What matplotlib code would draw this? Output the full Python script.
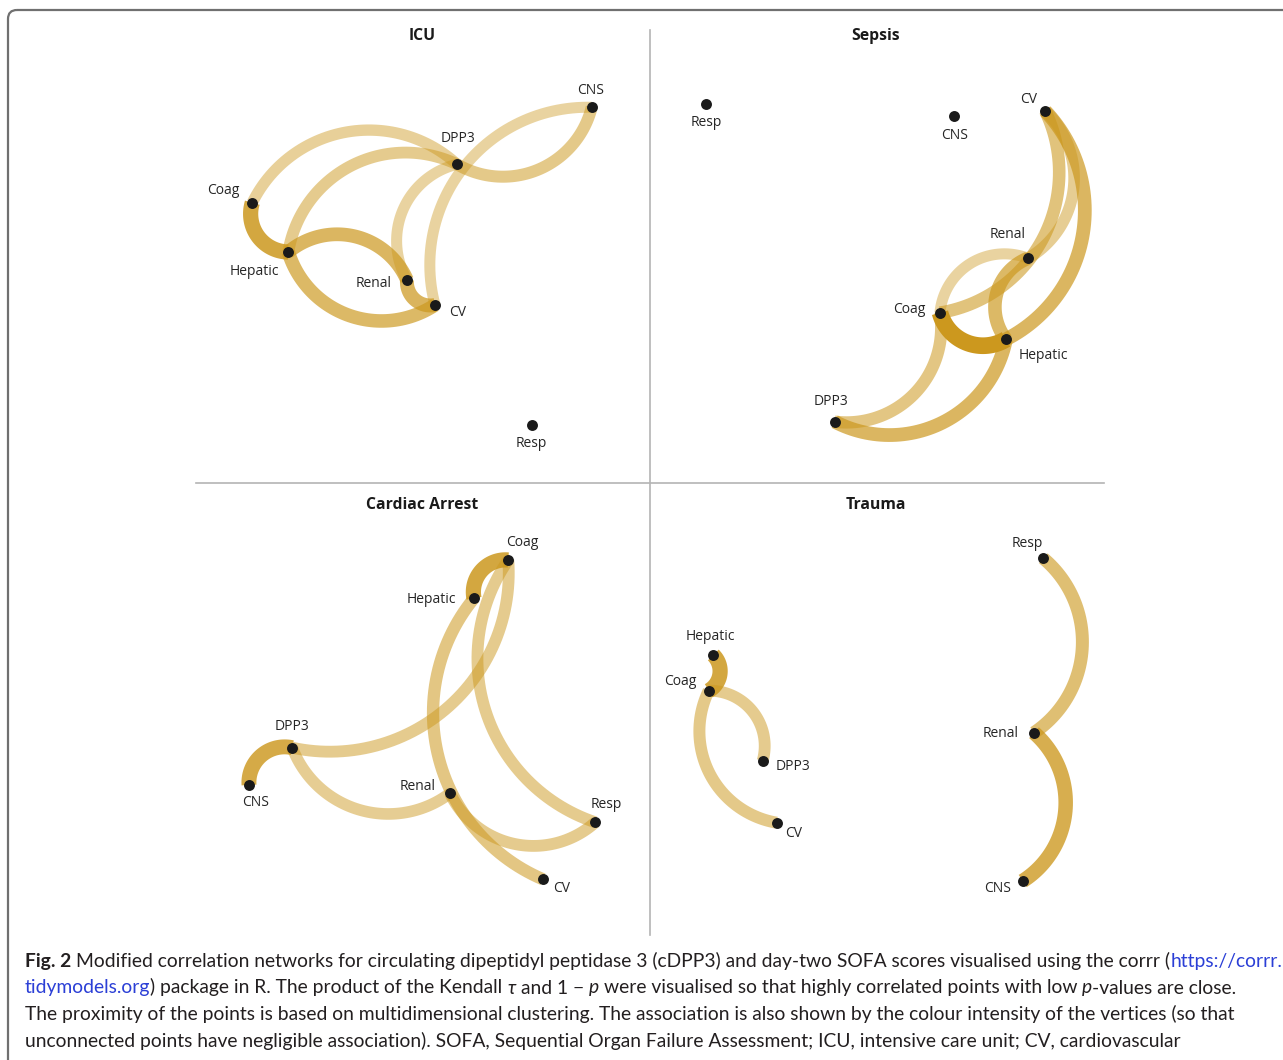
import numpy as np
import matplotlib.pyplot as plt
from matplotlib.patches import FancyBboxPatch

W, H = 1283, 1060
GOLD = (0.80, 0.596, 0.118)

# ---- data: node coordinates (MDS layout, panel units, y up) ----
nodes = ["CNS", "Coag", "CV", "DPP3", "Hepatic", "Renal", "Resp"]

icu_x = [395.7, 56.3, 239.0, 261.0, 92.3, 211.0, 335.7]
icu_y = [375.7, 280.3, 178.0, 318.7, 231.0, 203.0, 58.0]

sepsis_x = [304.3, 290.0, 395.3, 184.7, 356.0, 378.0, 56.0]
sepsis_y = [367.0, 170.3, 372.0, 61.3, 143.7, 224.7, 379.0]

arrest_x = [53.0, 312.3, 347.0, 96.3, 278.0, 254.0, 399.3]
arrest_y = [167.0, 392.0, 72.7, 204.3, 353.7, 158.7, 129.7]

trauma_x = [372.7, 58.7, 126.7, 112.7, 63.3, 384.0, 393.3]
trauma_y = [71.0, 261.3, 129.3, 191.3, 297.0, 219.3, 393.7]

# edges: (from, to, association strength)
icu_edges = [("Coag", "Hepatic", 0.85), ("DPP3", "Coag", 0.45), ("DPP3", "Hepatic", 0.5),
             ("Renal", "Hepatic", 0.7), ("Hepatic", "CV", 0.68), ("Renal", "CV", 0.72),
             ("DPP3", "Renal", 0.42), ("CNS", "CV", 0.42), ("DPP3", "CNS", 0.52)]
sepsis_edges = [("Coag", "Hepatic", 1.0), ("Renal", "Coag", 0.42), ("Coag", "CV", 0.58),
                ("Renal", "CV", 0.48), ("Hepatic", "CV", 0.7), ("Renal", "Hepatic", 0.68),
                ("DPP3", "Coag", 0.55), ("DPP3", "Hepatic", 0.7)]
arrest_edges = [("Coag", "Hepatic", 0.85), ("DPP3", "CNS", 0.82), ("DPP3", "Coag", 0.5),
                ("DPP3", "Renal", 0.48), ("Hepatic", "CV", 0.55), ("Renal", "Resp", 0.5),
                ("Coag", "Resp", 0.5)]
trauma_edges = [("Coag", "Hepatic", 0.85), ("DPP3", "Coag", 0.5), ("Coag", "CV", 0.52),
                ("Renal", "Resp", 0.62), ("CNS", "Renal", 0.78)]

panel_titles = ["ICU", "Sepsis", "Cardiac Arrest", "Trauma"]

# ---- layout ----
PW, PH = 454, 469
panel_origin = [(196, 14), (650, 14), (196, 483), (650, 483)]
label_offsets = [
    {"CNS": (-1, -17), "DPP3": (1, -26), "Coag": (-29, -12), "Hepatic": (-34, 19),
     "Renal": (-33, 3), "CV": (23, 7), "Resp": (0, 18)},
    {"Resp": (0, 18), "CNS": (0, 19), "CV": (-17, -12), "Renal": (-20, -24),
     "Coag": (-31, -3), "Hepatic": (37, 16), "DPP3": (-4, -20)},
    {"Coag": (14, -18), "Hepatic": (-43, 1), "DPP3": (0, -21), "CNS": (7, 17),
     "Renal": (-32, -7), "Resp": (11, -18), "CV": (19, 9)},
    {"Hepatic": (-3, -19), "Coag": (-28, -9), "DPP3": (30, 6), "CV": (17, 11),
     "Resp": (-16, -15), "Renal": (-33, 1), "CNS": (-25, 8)},
]

LABEL_FONT = ["Open Sans", "DejaVu Sans"]


def arc(p0, p1, n=60):
    # circular arc bulging to the right of p0->p1 (sagitta = chord / 4)
    p0, p1 = np.asarray(p0, float), np.asarray(p1, float)
    d = p1 - p0
    L = np.hypot(*d)
    u = d / L
    nrm = np.array([u[1], -u[0]])
    s = 0.25 * L
    R = (L ** 2 / 4 + s ** 2) / (2 * s)
    mid = (p0 + p1) / 2
    c = mid - nrm * (R - s)
    th = np.arctan2(L / 2, R - s)
    t = np.linspace(-th, th, n)
    pts = c[None, :] + R * (np.cos(t)[:, None] * nrm + np.sin(t)[:, None] * u)
    return pts[:, 0], pts[:, 1]


fig = plt.figure(figsize=(W / 100, H / 100), dpi=100)

# frame, separators
ov = fig.add_axes([0, 0, 1, 1])
ov.set_xlim(0, W)
ov.set_ylim(H, 0)
ov.axis("off")
ov.add_patch(FancyBboxPatch((8, 10), 1400, 1200, boxstyle="round,pad=0,rounding_size=9",
                            fill=False, edgecolor="#707070", lw=1.6))
ov.plot([650, 650], [30, 935], color="#b4b4b4", lw=1.2)
ov.plot([196, 1104], [483, 483], color="#b4b4b4", lw=1.2)

datasets = [(icu_x, icu_y, icu_edges), (sepsis_x, sepsis_y, sepsis_edges),
            (arrest_x, arrest_y, arrest_edges), (trauma_x, trauma_y, trauma_edges)]

for k, (xs, ys, edges) in enumerate(datasets):
    left, top = panel_origin[k]
    ax = fig.add_axes([left / W, 1 - (top + PH) / H, PW / W, PH / H])
    ax.set_xlim(0, PW)
    ax.set_ylim(0, PH)
    ax.axis("off")
    pos = {nm: (x, y) for nm, x, y in zip(nodes, xs, ys)}
    for a, b, r in edges:
        ex, ey = arc(pos[a], pos[b])
        ax.plot(ex, ey, color=GOLD, alpha=r, lw=5 + 7 * r,
                solid_capstyle="butt", clip_on=False, zorder=2)
    ax.scatter(xs, ys, s=62, color="#1a1a1a", zorder=4, clip_on=False, linewidths=0)
    for nm, x, y in zip(nodes, xs, ys):
        dx, dy = label_offsets[k][nm]
        ax.text(x + dx, y - dy, nm, ha="center", va="center", fontsize=10,
                color="#262626", family=LABEL_FONT, zorder=5)
    ax.text(PW / 2 - 1, PH - 22, panel_titles[k], ha="center", va="center",
            fontsize=11.3, fontweight="bold", color="#1a1a1a", family=LABEL_FONT)

# ---- caption ----
caption = [
    [("Fig. 2", "bold"),
     (" Modified correlation networks for circulating dipeptidyl peptidase 3 (cDPP3) and day-two SOFA scores visualised using the corrr (", "normal"),
     ("https://corrr.", "link")],
    [("tidymodels.org", "link"), (") package in R. The product of the Kendall ", "normal"),
     ("τ", "italic"), (" and 1 − ", "normal"), ("p", "italic"),
     (" were visualised so that highly correlated points with low ", "normal"),
     ("p", "italic"), ("-values are close.", "normal")],
    [("The proximity of the points is based on multidimensional clustering. The association is also shown by the colour intensity of the vertices (so that", "normal")],
    [("unconnected points have negligible association). SOFA, Sequential Organ Failure Assessment; ICU, intensive care unit; CV, cardiovascular", "normal")],
]
baselines = [967, 993.5, 1020, 1046.5]
CAP_FONT = ["Lato", "DejaVu Sans"]

renderer = fig.canvas.get_renderer()


def styles(size):
    base = dict(fontsize=size, family=CAP_FONT, color="#231f20")
    return {
        "normal": base,
        "bold": dict(base, fontweight="bold"),
        "link": dict(base, color="#2b3fd6"),
        "italic": dict(base, style="italic"),
    }


def tw(s, kw):
    t = fig.text(0, 0, s, **kw)
    w = t.get_window_extent(renderer).width
    t.remove()
    return w


def layout(line, st, draw_y=None):
    x = 25.0
    for text, key in line:
        kw = st[key]
        sp = tw("x x", kw) - tw("xx", kw)
        core = text.strip(" ")
        if text.startswith(" "):
            x += sp
        if draw_y is not None:
            fig.text(x / W, 1 - draw_y / H, core, ha="left", va="baseline", **kw)
        x += tw(core, kw)
        if text.endswith(" "):
            x += sp
    return x


size = 13
w1 = layout(caption[0], styles(size)) - 25
size = size * 1252 / w1
st = styles(size)
for line, yb in zip(caption, baselines):
    layout(line, st, yb)

fig.savefig("out.png", dpi=100)
